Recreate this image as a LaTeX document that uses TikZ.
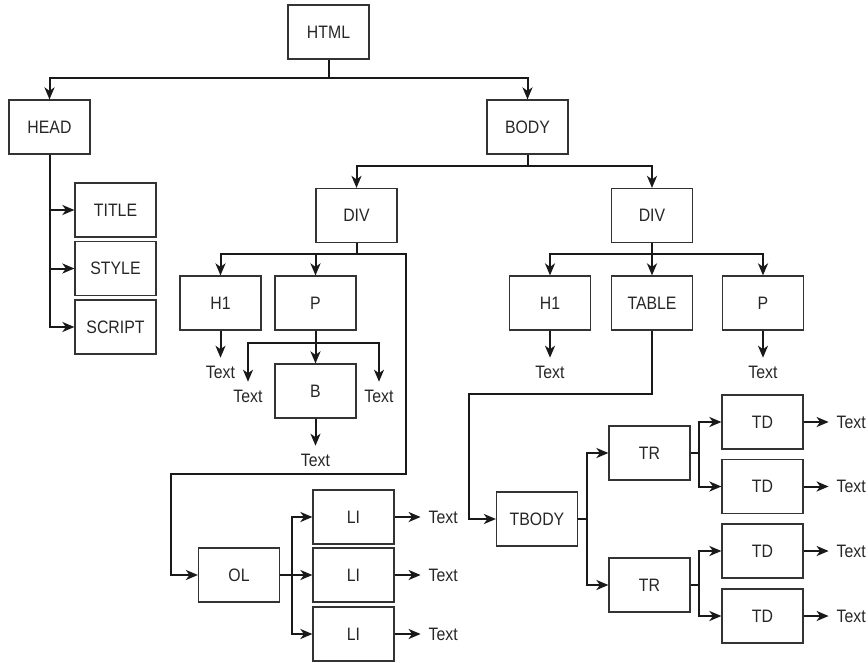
\documentclass[tikz,border=0pt]{standalone}
\usepackage{fontspec}
\setmainfont{Liberation Sans}[FakeStretch=0.88]
\usetikzlibrary{arrows.meta,positioning}
\tikzset{
    tag/.style ={
        shape=rectangle,
        draw=black!80,
        line width=1.2pt,
        minimum width=81pt,
        minimum height=54pt,
        inner sep=0pt,
        text=black!85,
        font=\fontsize{18}{21}\selectfont
    },
    leaf/.style ={
        inner sep=0pt,
        outer sep=8pt,
        text=black!85,
        font=\fontsize{18}{21}\selectfont
    },
    link/.style ={
        draw=black!90,
        line width=2pt,
        -{Stealth[length=12pt,width=10pt,inset=3.5pt]}
    }
}

\begin{document}
\begin{tikzpicture}[x=1pt,y=-1pt]
        \useasboundingbox (0,0) rectangle (868,662);
        \node[tag] (html) at(328.5,32) {HTML};
        \node[tag] (head) at(49.5,127) {HEAD};
        \node[tag] (body) at(527.5,127) {BODY};
        \node[tag] (title) at(115.5,210) {TITLE};
        \node[tag] (style) at(115.5,268.5) {STYLE};
        \node[tag] (script) at(115.5,327) {SCRIPT};
        \node[tag] (divl) at(356.5,215.5) {DIV};
        \node[tag] (divr) at(652,215.5) {DIV};
        \node[tag] (h1l) at(220.5,303) {H1};
        \node[tag] (pl) at(315.5,303) {P};
        \node[tag] (h1r) at(550,303) {H1};
        \node[tag] (table) at(652,303) {TABLE};
        \node[tag] (pr) at(763,303) {P};
        \node[tag] (b) at(315.5,391) {B};
        \node[tag] (ol) at(239,575) {OL};
        \node[tag] (li1) at(353.5,517) {LI};
        \node[tag] (li2) at(353.5,575) {LI};
        \node[tag] (li3) at(353.5,634) {LI};
        \node[tag] (tbody) at(537,519) {TBODY};
        \node[tag] (tr1) at(649.5,453) {TR};
        \node[tag] (tr2) at(649.5,585) {TR};
        \node[tag] (td1) at(762.5,422) {TD};
        \node[tag] (td2) at(762.5,486.5) {TD};
        \node[tag] (td3) at(762.5,551) {TD};
        \node[tag] (td4) at(762.5,616) {TD};
        % text leaves
        \node[leaf] (th1l) at(220.5,372) {Text};
        \node[leaf] (tpl1) at(248,396) {Text};
        \node[leaf] (tpl2) at(379,396) {Text};
        \node[leaf] (tb) at(315.5,460) {Text};
        \node[leaf] (th1r) at(550,372) {Text};
        \node[leaf] (tpr) at(763,372) {Text};
        \node[leaf,right=26pt of li1] (tli1) {Text};
        \node[leaf,right=26pt of li2] (tli2) {Text};
        \node[leaf,right=26pt of li3] (tli3) {Text};
        \node[leaf,right=25pt of td1] (ttd1) {Text};
        \node[leaf,right=25pt of td2] (ttd2) {Text};
        \node[leaf,right=25pt of td3] (ttd3) {Text};
        \node[leaf,right=25pt of td4] (ttd4) {Text};
        % buses
        \coordinate (hbus) at(328.5,78);
        \coordinate (bbus) at(527.5,166);
        \coordinate (dlbus) at(356.5,254);
        \coordinate (drbus) at(652,254);
        \coordinate (pbus) at(315.5,343);
        \coordinate (olbend) at(406,474);
        \coordinate (olbus) at(292,575);
        \coordinate (tbbend) at(469,394);
        \coordinate (tbbus) at(587,519);
        \coordinate (tr1bus) at(699,453);
        \coordinate (tr2bus) at(699,585);
        \draw[link] (html) -- (hbus) -| (head);
        \draw[link] (hbus) -| (body);
        \draw[link] (head) |- (title);
        \draw[link] (head) |- (style);
        \draw[link] (head) |- (script);
        \draw[link] (body) -- (bbus) -| (divl);
        \draw[link] (bbus) -| (divr);
        \draw[link] (divl) -- (dlbus) -| (h1l);
        \draw[link] (dlbus) -| (pl);
        \draw[link] (dlbus) -| (olbend) -- (171,474) |- (ol);
        \draw[link] (h1l) -- (th1l);
        \draw[link] (pl) -- (pbus) -- (b);
        \draw[link] (pbus) -| (tpl1);
        \draw[link] (pbus) -| (tpl2);
        \draw[link] (b) -- (tb);
        \draw[link] (ol) -- (olbus) |- (li1);
        \draw[link] (olbus) -- (li2);
        \draw[link] (olbus) |- (li3);
        \draw[link] (li1) -- (tli1);
        \draw[link] (li2) -- (tli2);
        \draw[link] (li3) -- (tli3);
        \draw[link] (divr) -- (table);
        \draw[link] (drbus) -| (h1r);
        \draw[link] (drbus) -| (pr);
        \draw[link] (h1r) -- (th1r);
        \draw[link] (pr) -- (tpr);
        \draw[link] (table) |- (tbbend) |- (tbody);
        \draw[link] (tbody) -- (tbbus) |- (tr1);
        \draw[link] (tbbus) |- (tr2);
        \draw[link] (tr1) -- (tr1bus) |- (td1);
        \draw[link] (tr1bus) |- (td2);
        \draw[link] (tr2) -- (tr2bus) |- (td3);
        \draw[link] (tr2bus) |- (td4);
        \draw[link] (td1) -- (ttd1);
        \draw[link] (td2) -- (ttd2);
        \draw[link] (td3) -- (ttd3);
        \draw[link] (td4) -- (ttd4);
    \end{tikzpicture}
\end{document}
